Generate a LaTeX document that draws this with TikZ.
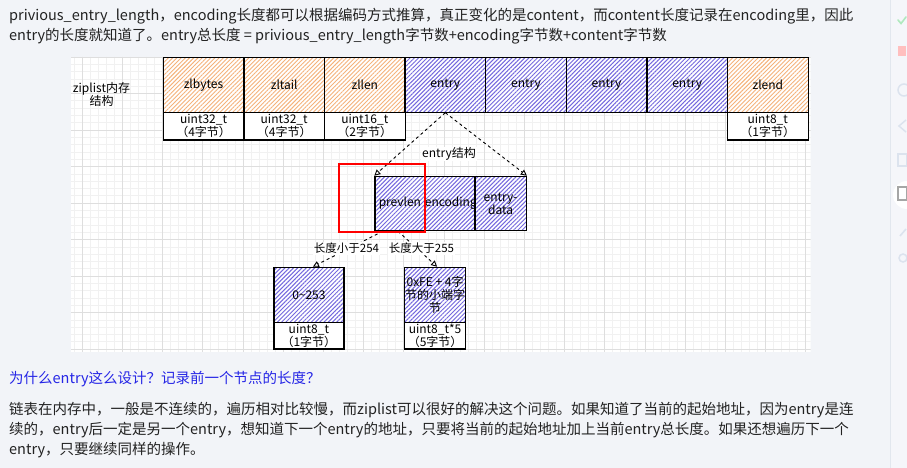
\documentclass[tikz,border=0pt]{standalone}
\usepackage{fontspec}
\setmainfont{Noto Sans CJK SC}
\usetikzlibrary{patterns.meta,arrows.meta}
\definecolor{pagebg}{HTML}{F2F4F8}
\definecolor{sidebg}{HTML}{F5F6FA}
\definecolor{sideline}{HTML}{E2E7EE}
\definecolor{txt}{HTML}{222222}
\definecolor{qblue}{HTML}{2626E6}
\definecolor{gridmaj}{HTML}{DEDEDE}
\definecolor{gridmin}{HTML}{F1F1F1}
\definecolor{hatchor}{HTML}{F5B27A}
\definecolor{hatchpu}{HTML}{7468DE}
\definecolor{iconc}{HTML}{DCE3EE}
\begin{document}
\begin{tikzpicture}[x=1pt,y=-1pt,
  body/.style={font=\fontsize{14.5}{16}\selectfont, text=txt, anchor=west, inner sep=0pt},
  dtext/.style={font=\fontsize{12}{13}\selectfont, text=black, align=center},
  orcell/.style={dtext, draw=black, line width=1.2pt, inner sep=0pt, anchor=north west,
     preaction={fill=white},
     pattern={Lines[angle=45,distance=3pt,line width=0.9pt]}, pattern color=hatchor},
  pucell/.style={dtext, draw=black, line width=1.2pt, inner sep=0pt, anchor=north west,
     preaction={fill=white},
     pattern={Lines[angle=45,distance=3pt,line width=1pt]}, pattern color=hatchpu},
  wcell/.style={dtext, draw=black, line width=1.2pt, inner sep=0pt, anchor=north west, fill=white},
  dasharrow/.style={draw=black, dashed, line width=0.9pt, -{Triangle[open,length=6pt,width=6pt]}},
  elabel/.style={dtext, font=\fontsize{11.5}{13}\selectfont, fill=white, inner sep=1pt}
]
% page
\fill[pagebg] (0,0) rectangle (907,468);
\useasboundingbox (0,0) rectangle (907,468);
% sidebar
\fill[sidebg] (890.5,0) rectangle (907,468);
\draw[sideline, line width=1pt] (890.5,0) -- (890.5,468);
\fill[white] (907,195) circle (14);
\draw[iconc!80!green, line width=1.6pt, line cap=round] (898,20) -- (901,23.5) -- (906,17);
\fill[red!25] (898,46) rectangle (906,56);
\draw[iconc, line width=1.5pt] (904,90) circle (6);
\draw[iconc, line width=1.5pt] (906,120) -- (899,126) -- (906,132);
\draw[iconc, line width=1.2pt] (898,154) rectangle (907,166);
\draw[gray!70, line width=1.1pt] (898,187) rectangle (907,200);
\draw[iconc, line width=1.6pt] (900,236) -- (906,229);
\draw[iconc, line width=1.5pt] (903,258) circle (4);
% top text
\node[body] (t1) at (9,16) {privious\_entry\_length，encoding长度都可以根据编码方式推算，真正变化的是content，而content长度记录在encoding里，因此};
\node[body] (t2) at (9,36) {entry的长度就知道了。entry总长度 = privious\_entry\_length字节数+encoding字节数+content字节数};
% diagram canvas with grid
\begin{scope}
\clip (71,56.7) rectangle (810.5,351.7);
\fill[white] (71,56.7) rectangle (810.5,351.7);
\foreach \k in {-7,...,86} {\pgfmathsetmacro\xx{122.3+8.04*\k}
  \draw[gridmin, line width=0.6pt] (\xx,56.7) -- (\xx,351.7);}
\foreach \k in {-11,...,31} {\pgfmathsetmacro\yy{130+7.3*\k}
  \draw[gridmin, line width=0.6pt] (71,\yy) -- (810.5,\yy);}
\foreach \k in {-2,...,18} {\pgfmathsetmacro\xx{122.3+40.2*\k}
  \draw[gridmaj, line width=0.7pt] (\xx,56.7) -- (\xx,351.7);}
\foreach \k in {-3,...,7} {\pgfmathsetmacro\yy{130+36.5*\k}
  \draw[gridmaj, line width=0.7pt] (71,\yy) -- (810.5,\yy);}
\end{scope}
\node[dtext] (title) at (101.5,94.5) {ziplist内存\\结构};
% top row
\node[orcell, minimum width=80.6pt, minimum height=54.4pt] (zlbytes) at (162.7,57.3) {zlbytes};
\node[orcell, minimum width=80.6pt, minimum height=54.4pt] (zltail) at (243.3,57.3) {zltail};
\node[orcell, minimum width=80.6pt, minimum height=54.4pt] (zllen) at (323.9,57.3) {zllen};
\node[pucell, minimum width=80.6pt, minimum height=54.4pt] (entry1) at (404.5,57.3) {entry};
\node[pucell, minimum width=80.6pt, minimum height=54.4pt] (entry2) at (485.1,57.3) {entry};
\node[pucell, minimum width=80.6pt, minimum height=54.4pt] (entry3) at (565.7,57.3) {entry};
\node[pucell, minimum width=80.6pt, minimum height=54.4pt] (entry4) at (646.3,57.3) {entry};
\node[orcell, minimum width=80.6pt, minimum height=54.4pt] (zlend) at (726.9,57.3) {zlend};
% type row
\node[wcell, minimum width=80.6pt, minimum height=27.6pt] (zlbytesT) at (162.7,111.7) {uint32\_t\\（4字节）};
\node[wcell, minimum width=80.6pt, minimum height=27.6pt] (zltailT) at (243.3,111.7) {uint32\_t\\（4字节）};
\node[wcell, minimum width=80.6pt, minimum height=27.6pt] (zllenT) at (323.9,111.7) {uint16\_t\\（2字节）};
\node[wcell, minimum width=80.6pt, minimum height=27.6pt] (zlendT) at (726.9,111.7) {uint8\_t\\（1字节）};
% entry structure
\node[pucell, minimum width=50pt, minimum height=54.3pt] (prevlen) at (374.3,175.7) {prevlen};
\node[pucell, minimum width=50pt, minimum height=54.3pt] (encoding) at (424.3,175.7) {encoding};
\node[pucell, minimum width=51.4pt, minimum height=54.3pt] (edata) at (474.3,175.7) {entry-\\data};
\node[dtext, fill=white, inner sep=1pt] (estruct) at (449,154) {entry结构};
\draw[dasharrow] (entry1.south) -- (prevlen.north west);
\draw[dasharrow] (entry1.south) -- (edata.north east);
% lower boxes
\node[pucell, minimum width=70pt, minimum height=55pt] (small) at (273.3,266.7) {0\textasciitilde253};
\node[wcell, minimum width=70pt, minimum height=26.6pt] (smallT) at (273.3,321.7) {uint8\_t\\（1字节）};
\node[pucell, minimum width=61pt, minimum height=55pt] (big) at (404,266.7) {0xFE + 4字\\节的小端字\\节};
\node[wcell, minimum width=61pt, minimum height=26.6pt] (bigT) at (404,321.7) {uint8\_t*5\\（5字节）};
\coordinate (pl) at ([xshift=-17pt]prevlen.south);
\coordinate (pr) at ([xshift=-2pt]prevlen.south);
\draw[dasharrow] (pl) -- ([xshift=4pt]small.north);
\draw[dasharrow] (pr) -- ([xshift=2pt]big.north);
\node[elabel] (lt254) at (346.5,248.3) {长度小于254};
\node[elabel] (gt255) at (421.5,248.3) {长度大于255};
% highlight
\node[draw=red, line width=1.8pt, minimum width=86.6pt, minimum height=68.3pt, anchor=north west, inner sep=0pt] (hl) at (337.7,162.7) {};
% bottom text
\node[body, text=qblue] (q) at (9,379) {为什么entry这么设计？记录前一个节点的长度？};
\node[body] (p1) at (9,410) {链表在内存中，一般是不连续的，遍历相对比较慢，而ziplist可以很好的解决这个问题。如果知道了当前的起始地址，因为entry是连};
\node[body] (p2) at (9,430) {续的，entry后一定是另一个entry，想知道下一个entry的地址，只要将当前的起始地址加上当前entry总长度。如果还想遍历下一个};
\node[body] (p3) at (9,450) {entry，只要继续同样的操作。};
\end{tikzpicture}
\end{document}
